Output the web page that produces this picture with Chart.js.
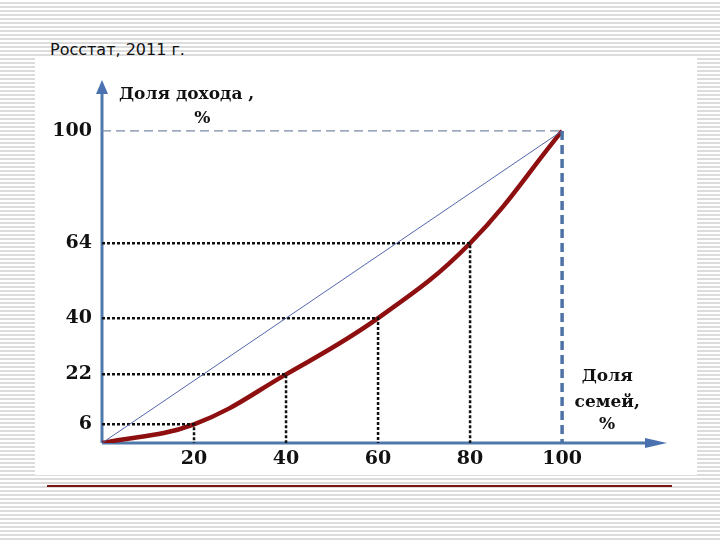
<!DOCTYPE html>
<html lang="ru">
<head>
<meta charset="UTF-8">
<title>Кривая Лоренца, Росстат 2011</title>
<script src="https://cdn.jsdelivr.net/npm/chart.js"></script>
<style>
  html, body { margin: 0; padding: 0; }
  body {
    width: 720px; height: 540px; position: relative; overflow: hidden;
    background: repeating-linear-gradient(to bottom, #ffffff 0px, #ffffff 2px, #dcdcdc 2px, #dcdcdc 4px);
  }
  #panel { position: absolute; left: 35px; top: 57px; width: 662px; height: 418px; background: #fff; }
  #source { position: absolute; left: 50px; top: 40px; font: 16px "DejaVu Sans", sans-serif; color: #111; }
  #rule { position: absolute; left: 47px; top: 485px; width: 625px; height: 2px; background: #7d1515; }
  #chart { position: absolute; left: 0; top: 0; }
</style>
</head>
<body>
<div id="panel"></div>
<div id="source">Росстат, 2011 г.</div>
<div id="rule"></div>
<canvas id="chart" width="720" height="540"></canvas>

<script>
// доля семей (%) и доля дохода (%)
const familyShare = [0, 20, 40, 60, 80, 100];
const incomeShare = [0, 6, 22, 40, 64, 100];
const xTicks = [20, 40, 60, 80, 100];
const yTicks = [6, 22, 40, 64, 100];

const serif = '"DejaVu Serif", "Liberation Serif", serif';

const lorenz = familyShare.map((s, i) => ({ x: s, y: incomeShare[i] }));

// пунктир от точек кривой к осям
const guides = familyShare.slice(1, -1).map((s, i) => ({
  data: [{ x: 0, y: incomeShare[i + 1] }, { x: s, y: incomeShare[i + 1] }, { x: s, y: 0 }],
  borderColor: '#111',
  borderWidth: 2.5,
  borderDash: [3, 2],
  pointRadius: 0,
  tension: 0
}));

// оси со стрелками и подписи осей
const axesPlugin = {
  id: 'axes',
  beforeDatasetsDraw(chart) {
    const { ctx, scales: { x, y } } = chart;
    const x0 = x.getPixelForValue(0), y0 = y.getPixelForValue(0);
    const xEnd = x.right, yEnd = y.top;
    ctx.save();
    ctx.strokeStyle = '#5079ab';
    ctx.fillStyle = '#4a72b0';
    ctx.lineWidth = 3;
    ctx.beginPath();
    ctx.moveTo(x0, y0); ctx.lineTo(x0, yEnd + 10);
    ctx.moveTo(x0, y0); ctx.lineTo(xEnd - 18, y0);
    ctx.stroke();
    ctx.beginPath();
    ctx.moveTo(x0, yEnd); ctx.lineTo(x0 - 6, yEnd + 14); ctx.lineTo(x0 + 6, yEnd + 14); ctx.closePath();
    ctx.fill();
    ctx.beginPath();
    ctx.moveTo(xEnd, y0); ctx.lineTo(xEnd - 22, y0 - 5); ctx.lineTo(xEnd - 22, y0 + 5); ctx.closePath();
    ctx.fill();
    ctx.restore();
  },
  afterDraw(chart) {
    const { ctx, scales: { x, y } } = chart;
    ctx.save();
    ctx.fillStyle = '#111';
    ctx.font = 'bold 17px ' + serif;
    ctx.textBaseline = 'middle';
    ctx.textAlign = 'left';
    ctx.fillText('Доля дохода ,', x.getPixelForValue(0) + 17, y.getPixelForValue(111.7));
    ctx.textAlign = 'center';
    ctx.fillText('%', x.getPixelForValue(21.8), y.getPixelForValue(103.8));
    const cx = x.getPixelForValue(109.8);
    ctx.fillText('Доля', cx, y.getPixelForValue(21.2));
    ctx.fillText('семей,', cx, y.getPixelForValue(12.9));
    ctx.fillText('%', cx, y.getPixelForValue(6));
    ctx.restore();
  }
};

new Chart(document.getElementById('chart'), {
  type: 'line',
  data: {
    datasets: [
      {
        data: [{ x: 0, y: 0 }, { x: 100, y: 100 }],
        borderColor: '#5566aa',
        borderWidth: 1,
        pointRadius: 0
      },
      ...guides,
      {
        data: [{ x: 0, y: 100 }, { x: 100, y: 100 }],
        borderColor: '#7a8aa8',
        borderWidth: 1.2,
        borderDash: [9, 5],
        pointRadius: 0
      },
      {
        data: [{ x: 100, y: 100 }, { x: 100, y: 0 }],
        borderColor: '#4f72a6',
        borderWidth: 3.5,
        borderDash: [9, 5],
        pointRadius: 0
      },
      {
        data: lorenz,
        borderColor: '#8e0f0f',
        borderWidth: 4.5,
        tension: 0.4,
        pointRadius: 0
      }
    ]
  },
  options: {
    responsive: false,
    animation: false,
    layout: { padding: { top: 80, right: 53, left: 0, bottom: 0 } },
    plugins: { legend: { display: false }, tooltip: { enabled: false } },
    scales: {
      x: {
        type: 'linear', min: 0, max: 122.8,
        afterBuildTicks: s => { s.ticks = xTicks.map(v => ({ value: v })); },
        afterFit: s => { s.height = 97; },
        grid: { display: false, drawTicks: false },
        border: { display: false },
        ticks: { padding: 5, color: '#111', font: { family: serif, size: 19, weight: 'bold' }, maxRotation: 0 }
      },
      y: {
        type: 'linear', min: 0, max: 116.3,
        afterBuildTicks: s => { s.ticks = yTicks.map(v => ({ value: v })); },
        afterFit: s => { s.width = 102; },
        grid: { display: false, drawTicks: false },
        border: { display: false },
        ticks: { padding: 10, color: '#111', font: { family: serif, size: 19, weight: 'bold' } }
      }
    }
  },
  plugins: [axesPlugin]
});
</script>
</body>
</html>
